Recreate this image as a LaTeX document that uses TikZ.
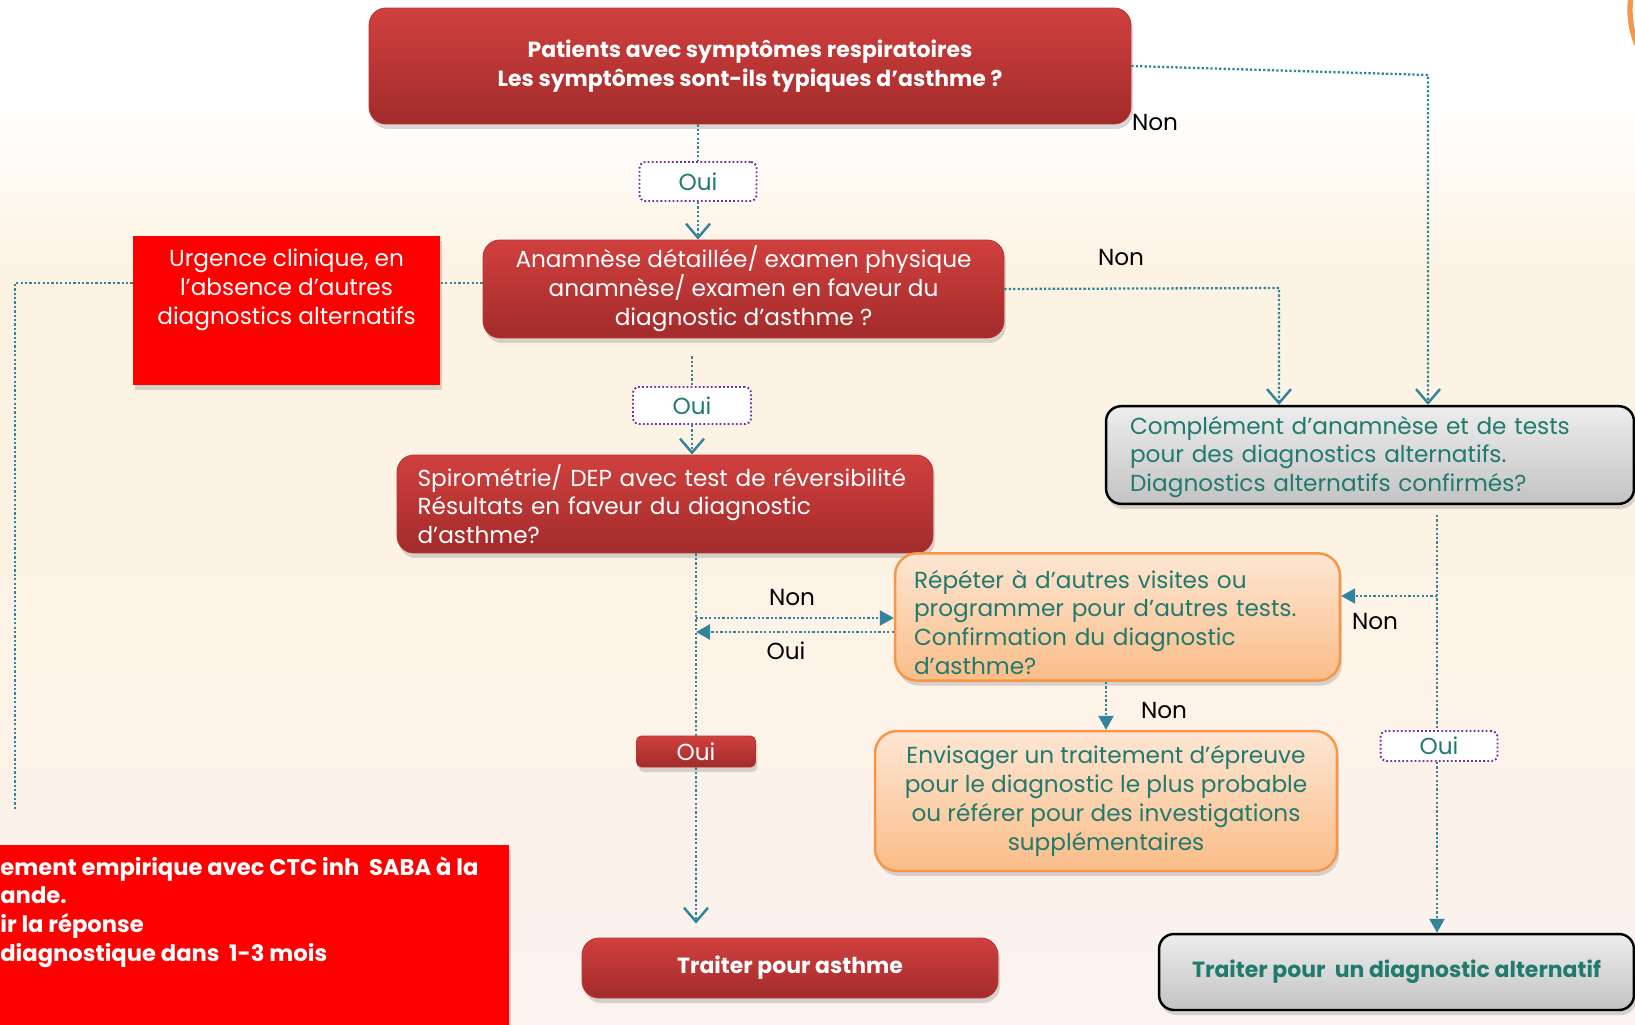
\documentclass[tikz,border=0pt]{standalone}
\usepackage{fontspec}
\setmainfont{Poppins}
\usetikzlibrary{positioning,arrows.meta,shadows}

\definecolor{redtop}{HTML}{D0403E}
\definecolor{redbot}{HTML}{A22B2B}
\definecolor{redline}{HTML}{B53533}
\definecolor{alarm}{HTML}{FF0000}
\definecolor{flowcol}{HTML}{31849B}
\definecolor{tealtext}{HTML}{217A6E}
\definecolor{ouiborder}{HTML}{7030A0}
\definecolor{orgtop}{HTML}{FDE6D3}
\definecolor{orgbot}{HTML}{FABD88}
\definecolor{orgline}{HTML}{F79646}
\definecolor{greytop}{HTML}{EDEDED}
\definecolor{greybot}{HTML}{C3C3C3}
\definecolor{bgmid}{HTML}{FDF3E4}
\definecolor{bgbot}{HTML}{FCF2EF}

\pgfdeclareverticalshading{pagebg}{100bp}{color(0bp)=(bgbot); color(25bp)=(bgbot); color(50bp)=(bgmid); color(62bp)=(bgmid); color(70bp)=(white); color(100bp)=(white)}

\newcommand{\boxfont}{\fontsize{13.2}{16.4}\selectfont}
\newcommand{\titlefont}{\fontsize{12.5}{16.4}\selectfont\bfseries}

\begin{document}
\begin{tikzpicture}[
  x=0.02cm, y=-0.02cm,
  >={Straight Barb[length=0.28cm,width=0.48cm,line width=1.4pt]},
  softshadow/.style={drop shadow={opacity=0.3, shadow xshift=0.04cm, shadow yshift=-0.1cm}},
  redbox/.style={rounded corners=0.34cm, top color=redtop, bottom color=redbot, draw=redline, line width=0.5pt, text=white, align=center, font=\boxfont, softshadow},
  alarmbox/.style={fill=alarm, inner sep=0pt, softshadow},
  alarmtext/.style={text=white, align=center, inner sep=0pt, font=\boxfont},
  greybox/.style={rounded corners=0.3cm, top color=greytop, bottom color=greybot, draw=black, line width=1.4pt, text=tealtext, font=\boxfont, softshadow},
  orangebox/.style={rounded corners=0.44cm, top color=orgtop, bottom color=orgbot, draw=orgline, line width=1.4pt, text=tealtext, font=\boxfont, softshadow},
  ouibox/.style={draw=ouiborder, fill=white, line width=1.1pt, dash pattern=on 1pt off 1.3pt, rounded corners=0.12cm, text=tealtext, font=\boxfont, inner sep=0pt},
  verdict/.style={text=black, font=\boxfont},
  flowline/.style={draw=flowcol, line width=1.3pt, dash pattern=on 1.3pt off 1.2pt},
  solidtip/.style={-{Triangle[length=0.28cm,width=0.3cm]}}
]
\useasboundingbox (0,0) rectangle (1635,1024);
\clip (0,0) rectangle (1635,1024);
\shade[shading=pagebg] (0,0) rectangle (1635,1024);
\draw[orgline, line width=3pt] (1720,10) circle [radius=90];

% Decision boxes
\node[redbox, minimum width=15.24cm, minimum height=2.32cm, font=\titlefont] (patients) at (750,66) {Patients avec symptômes respiratoires\\Les symptômes sont-ils typiques d’asthme ?};
\node[ouibox, minimum width=2.34cm, minimum height=0.78cm] (oui1) at (698,181.5) {Oui};
\node[redbox, minimum width=10.42cm, minimum height=1.96cm] (anamnese) at (743.5,289) {Anamnèse détaillée/ examen physique\\anamnèse/ examen en faveur du\\diagnostic d’asthme ?};
\node[alarmbox, minimum width=6.14cm, minimum height=2.98cm] (urgence) at (286.5,310.5) {};
\node[alarmtext, below=0.26cm of urgence.north] {Urgence clinique, en\\l’absence d’autres\\diagnostics alternatifs};
\node[ouibox, minimum width=2.36cm, minimum height=0.74cm] (oui2) at (692,405.5) {Oui};
\node[redbox, align=left, text width=9.9cm, inner xsep=0.41cm, minimum height=1.96cm] (spiro) at (665,504) {Spirométrie/ DEP avec test de réversibilité\\Résultats en faveur du diagnostic\\d’asthme?};
\node[greybox, align=left, text width=9.6cm, inner xsep=0.48cm, minimum height=1.92cm] (complement) at (1370,455) {\rule{0pt}{0.44cm}Complément d’anamnèse et de tests\\pour des diagnostics alternatifs.\\Diagnostics alternatifs confirmés?};
\node[orangebox, align=left, text width=8.14cm, inner xsep=0.38cm, minimum height=2.52cm] (repeter) at (1117.5,617) {\rule{0pt}{0.58cm}Répéter à d’autres visites ou\\programmer pour d’autres tests.\\Confirmation du diagnostic\\d’asthme?};
\node[orangebox, align=center, minimum width=9.24cm, minimum height=2.8cm] (epreuve) at (1106,801) {Envisager un traitement d’épreuve\\pour le diagnostic le plus probable\\ou référer pour des investigations\\supplémentaires};
\node[redbox, minimum width=2.38cm, minimum height=0.62cm, rounded corners=0.1cm, inner sep=0pt] (oui3) at (696,751.5) {Oui};
\node[ouibox, minimum width=2.34cm, minimum height=0.6cm] (oui4) at (1439,746) {Oui};

% Outcomes
\node[alarmbox, minimum width=10.58cm, minimum height=3.98cm] (empirique) at (244.5,944.5) {};
\node[alarmtext, anchor=north west, align=left, font=\fontsize{12.9}{16.4}\selectfont\bfseries] at (0,856) {ement empirique avec CTC inh\ \ SABA à la\\ande.\\ir la réponse\\diagnostique dans\ \ 1-3 mois};
\node[redbox, minimum width=8.32cm, minimum height=1.2cm, font=\titlefont] (asthme) at (790,968) {Traiter pour asthme};
\node[greybox, minimum width=9.5cm, minimum height=1.52cm, font=\titlefont] (alternatif) at (1396.5,972) {Traiter pour\ \ un diagnostic alternatif};

% Bends and split points
\coordinate (topbend) at (1428,75);
\coordinate (anabend) at (1279,288);
\coordinate (urgcorner) at (15,283);
\coordinate (urgend) at (15,809);
\coordinate (spirosplit) at (696,618);
\coordinate (cmplsplit) at (1437,596);

% Connectors
\draw[flowline] (patients.south -| oui1) -- (oui1.north);
\draw[flowline,->] (oui1.south) -- (anamnese.north -| oui1);
\draw[flowline,->] (patients.east) -- (topbend) -- (topbend |- complement.north);
\node[verdict] at (1155,123) {Non};
\draw[flowline,->] (anamnese.east) -- (anabend) -- (anabend |- complement.north);
\node[verdict] at (1121,258) {Non};
\draw[flowline] (urgcorner -| anamnese.west) -- (urgcorner -| urgence.east);
\draw[flowline] (urgcorner -| urgence.west) -- (urgcorner) -- (urgend);
\draw[flowline, shorten <=0.36cm] (anamnese.south -| oui2) -- (oui2.north);
\draw[flowline,->] (oui2.south) -- (spiro.north -| oui2);
\draw[flowline] (spiro.south -| oui3) -- (oui3.north);
\draw[flowline,->,shorten >=0.28cm] (oui3.south) -- (asthme.north -| oui3);
\draw[flowline,solidtip] (spirosplit) -- (spirosplit -| repeter.west);
\node[verdict] at (792,598) {Non};
\draw[flowline,solidtip] ([yshift=-0.3cm]repeter.west) -- ([yshift=-0.3cm]repeter.west -| spirosplit);
\node[verdict] at (786,651) {Oui};
\draw[flowline,solidtip] (repeter.south -| epreuve) -- (epreuve.north);
\node[verdict] at (1164,711) {Non};
\draw[flowline, shorten <=0.2cm] (complement.south -| cmplsplit) -- (oui4.north -| cmplsplit);
\draw[flowline,solidtip] (cmplsplit) -- (cmplsplit -| repeter.east);
\node[verdict] at (1375,622) {Non};
\draw[flowline,solidtip] (oui4.south -| cmplsplit) -- (alternatif.north -| cmplsplit);
\end{tikzpicture}
\end{document}
